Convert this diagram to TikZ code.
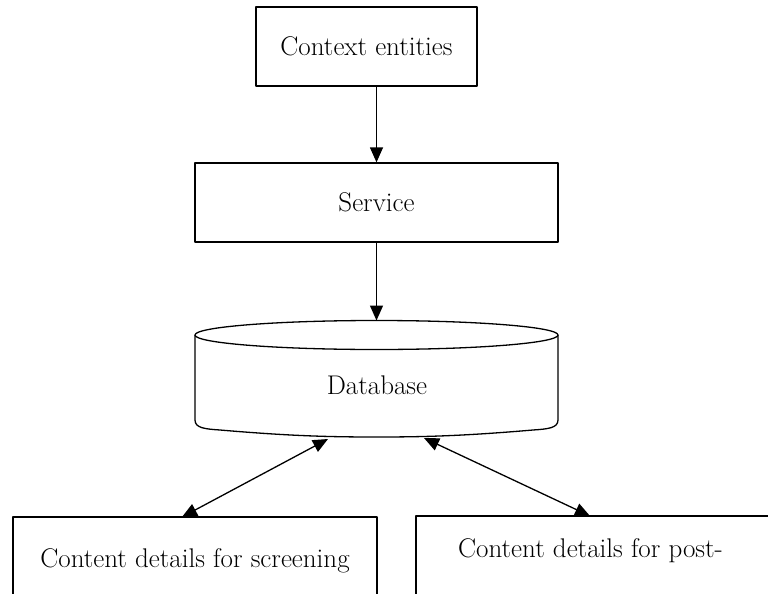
\documentclass[tikz,border=0pt]{standalone}
\usepackage{fontspec}
\usetikzlibrary{arrows.meta}
\tikzset{
  box/.style={draw, line width=1.3pt, inner sep=0pt},
  tip/.style={Triangle[length=15pt,width=13pt]},
  flow/.style={line width=1.3pt, -{Triangle[length=15pt,width=13pt]}},
  flowboth/.style={line width=1.3pt, {Triangle[length=15pt,width=13pt]}-{Triangle[length=15pt,width=13pt]}},
}
\begin{document}
\begin{tikzpicture}[x=1pt, y=-1pt, font=\fontsize{27}{32}\selectfont, line join=round]
  \useasboundingbox (0,0) rectangle (768,594);
  \clip (0,0) rectangle (768,594);
  % boxes
  \node[box, minimum width=221pt, minimum height=79pt] (ctx) at (366.5,46.5) {Context entities};
  \node[box, minimum width=363pt, minimum height=79pt] (srv) at (376.5,202.5) {Service};
  % database drum
  \draw[line width=1.3pt] (376.5,335) ellipse[x radius=181.5, y radius=14.5];
  \draw[line width=1.3pt] (195,335) -- (195,420) .. controls (195,428) and (205,429) .. (220,430)
    .. controls (290,436) and (330,437) .. (376.5,437) .. controls (423,437) and (463,436) .. (533,430)
    .. controls (548,429) and (558,428) .. (558,420) -- (558,335);
  \node[anchor=base] (db) at (377,394) {Database};
  \coordinate (dbtop) at (376.5,320.5);
  \coordinate (dbl) at (328,439);
  \coordinate (dbr) at (424,438);
  % bottom boxes, cut by the page
  \node[box, minimum width=364pt, minimum height=100pt] (scr) at (195,567) {};
  \node[anchor=base] (scrtext) at (195,567) {Content details for screening};
  \node[box, minimum width=364pt, minimum height=100pt] (post) at (598,566) {};
  \node[anchor=base] (posttext) at (590.5,557) {Content details for post-};
  \coordinate (scrt) at (182,517);
  \coordinate (postt) at (590,516);
  % connectors
  \draw[flow] (ctx.south -| srv.north) -- (srv.north);
  \draw[flow] (srv.south) -- (dbtop);
  \draw[flowboth] (scrt) -- (dbl);
  \draw[flowboth] (postt) -- (dbr);
\end{tikzpicture}
\end{document}
